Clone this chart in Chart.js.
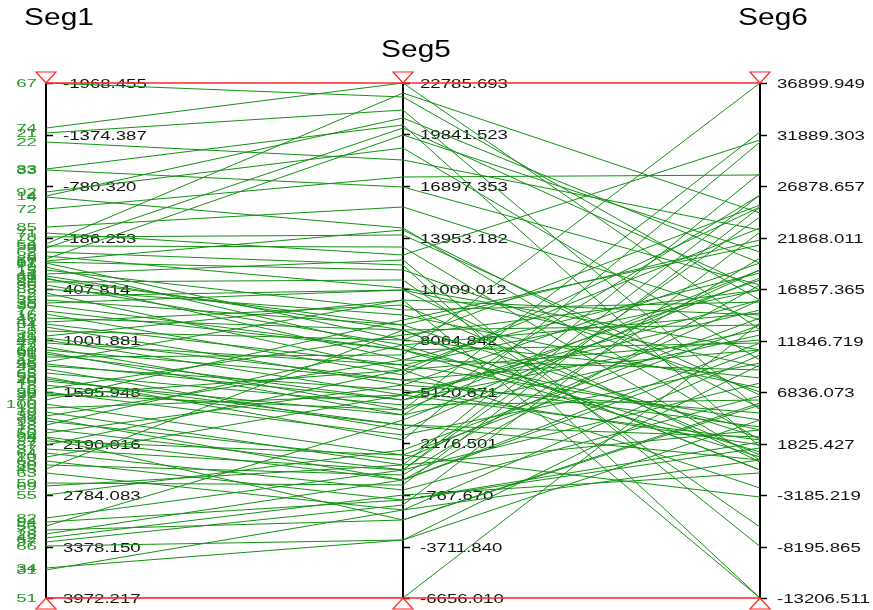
<!DOCTYPE html>
<html>
<head>
<meta charset="utf-8">
<script src="https://cdn.jsdelivr.net/npm/chart.js@4.4.1/dist/chart.umd.min.js"></script>
<style>
  html, body { margin: 0; padding: 0; background: #fff; }
</style>
</head>
<body>
<canvas id="chart" width="873" height="610"></canvas>
<script>
// axes of the parallel coordinate plot
const axisNames = ['Seg1', 'Seg5', 'Seg6'];
const axisMin = [-1968.4545, -6656.010, -13206.511];
const axisMax = [3972.217, 22785.693, 36899.949];
const axisReversed = [true, false, false];

const seg1Ticks = ['-1968.455', '-1374.387', '-780.320', '-186.253', '407.814', '1001.881', '1595.948', '2190.016', '2784.083', '3378.150', '3972.217'];
const seg5Ticks = ['22785.693', '19841.523', '16897.353', '13953.182', '11009.012', '8064.842', '5120.671', '2176.501', '-767.670', '-3711.840', '-6656.010'];
const seg6Ticks = ['36899.949', '31889.303', '26878.657', '21868.011', '16857.365', '11846.719', '6836.073', '1825.427', '-3185.219', '-8195.865', '-13206.511'];

// one line per record
const records = [67, 74, 21, 22, 83, 33, 92, 14, 4, 72, 85, 71, 78, 54, 53, 5, 62, 8, 26, 57,
  81, 9, 15, 44, 3, 61, 86, 36, 88, 2, 39, 30, 35, 16, 46, 41, 1, 58, 11, 43,
  47, 12, 60, 96, 25, 48, 49, 23, 65, 98, 40, 18, 6, 90, 27, 76, 100, 19, 70, 32,
  93, 13, 75, 50, 24, 7, 87, 37, 64, 10, 68, 80, 45, 63, 59, 69, 55, 82, 94, 56,
  73, 28, 42, 97, 66, 34, 31, 51, 17, 29, 52, 77, 84, 89, 91, 95, 20, 38, 79, 99];

const seg1 = [-1968.45, -1449, -1392, -1288, -976, -965, -711, -665, -653, -515,
  -307, -238, -192, -112, -88, -65, -19, 27, 62, 85,
  108, 154, 189, 235, 258, 281, 327, 362, 408, 454,
  535, 593, 570, 697, 743, 789, 846, 893, 950, 997,
  1031, 1077, 1112, 1158, 1193, 1250, 1296, 1331, 1377, 1423,
  1469, 1516, 1562, 1596, 1642, 1688, 1735, 1781, 1827, 1873,
  1931, 1977, 2023, 2069, 2115, 2161, 2208, 2254, 2300, 2346,
  2392, 2438, 2484, 2530, 2646, 2680, 2784, 3050, 3096, 3142,
  3188, 3234, 3280, 3326, 3373, 3626, 3649, 3972.21, 97, 293,
  489, 662, 812, 973, 1135, 1273, 1446, 1619, 1896, 2127];

const seg5 = [21986, 22785.69, 21242, 18384, 20385, 16840, 19070, 20785, 14496, 17412,
  15697, 12953, 14096, 22214, 13410, 20213, 12381, 11066, 19813, 14382,
  8093, 7522, 9809, 12667, 8665, 6950, 11524, 7808, 9523, 6378,
  8951, 7522, 10952, 6093, 8665, 10095, 5521, 8093, 10380, 4949,
  6664, 4092, 5807, 4663, 7236, 10380, 5235, 2948, 4378, 2376,
  3806, 3234, 8379, 2662, 6378, 9237, 1519, 4949, 947, 6950,
  1233, 7808, 661, 5521, 90, 1519, 6378, 661, -482, 4949,
  -1054, 375, 8665, -1625, -196, 947, 1805, 661, -1054, 3520,
  -2197, 90, -768, -1340, -3341, -3341, -1625, -6656.01, 12095, 8951,
  10952, 7522, 6664, 5807, 3806, 4663, 3234, 4092, 90, -2197];

const seg6 = [15787, 12868, 5085, 22598, 1485, 17246, 9950, 19387, 2166, 27949,
  13841, 31354, 6544, 24252, 221, 16760, -13206.51, 10923, 20457, 5280,
  25030, 3139, 15592, -8196, -752, 18414, -6299, 14522, 7225, 22792,
  2360, 11604, 26, 24836, 13355, 707, 19387, 8199, -13206.51, 15787,
  4111, 32133, 10923, 17733, 36899.94, 14327, 1680, 18706, 6058, 31160,
  12382, 221, 16760, 9658, -2504, 21138, 13355, 2166, 28143, 8977,
  15787, 999, 26003, 4792, 17246, -3380, 11895, 23863, 6447, 14814,
  1971, 19874, -752, 10436, 24836, 3139, 14036, 7711, 1388, 17927,
  5766, 11604, -1044, 22403, 4111, 9463, 221, 13549, 6836, 21625,
  9269, 513, 16760, 3431, 26003, 12868, 2458, 18706, 10923, 5571];

const lineColor = 'rgb(20,145,20)';
const labelGreen = '#2a962a';
const red = 'rgb(255,40,40)';
const FONT = '"Liberation Sans", Arial, sans-serif';

// map a value onto the shared 0..1 scale used to draw the lines
function norm(v, i) {
  const t = (v - axisMin[i]) / (axisMax[i] - axisMin[i]);
  return axisReversed[i] ? 1 - t : t;
}

const datasets = records.map((id, k) => ({
  label: String(id),
  data: [norm(seg1[k], 0), norm(seg5[k], 1), norm(seg6[k], 2)],
  borderColor: lineColor,
  borderWidth: 1,
  pointRadius: 0,
  tension: 0,
  yAxisID: 'yn'
}));

function axisScale(i) {
  return {
    type: 'linear',
    position: { x: i },
    min: axisMin[i],
    max: axisMax[i],
    reverse: axisReversed[i],
    grid: { drawOnChartArea: false, drawTicks: false },
    border: { display: true, color: '#000', width: 2 },
    ticks: { display: false }
  };
}

// text in the reference is stretched sideways
function wideText(ctx, text, x, y, font, color, sx, align) {
  ctx.save();
  ctx.translate(x, y);
  ctx.scale(sx, 1);
  ctx.font = font;
  ctx.fillStyle = color;
  ctx.textAlign = align;
  ctx.textBaseline = 'middle';
  ctx.fillText(text, 0, 0);
  ctx.restore();
}

const decor = {
  id: 'decor',
  beforeDatasetsDraw(chart) {
    const ctx = chart.ctx;
    const xs = chart.scales.x;
    const tickSets = [seg1Ticks, seg5Ticks, seg6Ticks];
    ['y1', 'y5', 'y6'].forEach((id, i) => {
      const sc = chart.scales[id];
      const ax = xs.getPixelForValue(i);
      tickSets[i].forEach(t => {
        const py = Math.round(sc.getPixelForValue(parseFloat(t))) + 0.5;
        ctx.save();
        ctx.strokeStyle = '#000';
        ctx.lineWidth = 1.5;
        ctx.beginPath();
        ctx.moveTo(ax, py);
        ctx.lineTo(ax + 7, py);
        ctx.stroke();
        ctx.restore();
        wideText(ctx, t, ax + 17, py + 1, '12px ' + FONT, '#111', 1.55, 'left');
      });
      // axis titles, alternating height
      wideText(ctx, axisNames[i], ax + 13, i % 2 ? 51 : 19, '23px ' + FONT, '#000', 1.3, 'center');
    });
    // record labels beside the first axis
    const s1 = chart.scales.y1;
    records.forEach((id, k) => {
      wideText(ctx, String(id), 37, s1.getPixelForValue(seg1[k]) + 1, '11px ' + FONT, labelGreen, 1.7, 'right');
    });
  },
  afterDatasetsDraw(chart) {
    const ctx = chart.ctx;
    const { left, right, top, bottom } = chart.chartArea;
    ctx.save();
    ctx.strokeStyle = red;
    ctx.lineWidth = 1.5;
    ctx.beginPath();
    ctx.moveTo(left, top);
    ctx.lineTo(right, top);
    ctx.moveTo(left, bottom);
    ctx.lineTo(right, bottom);
    ctx.stroke();
    ctx.lineWidth = 1.2;
    axisNames.forEach((n, i) => {
      const ax = chart.scales.x.getPixelForValue(i);
      ctx.beginPath();
      ctx.moveTo(ax - 10, top - 11);
      ctx.lineTo(ax + 10, top - 11);
      ctx.lineTo(ax, top);
      ctx.closePath();
      ctx.stroke();
      ctx.beginPath();
      ctx.moveTo(ax - 10, bottom + 11);
      ctx.lineTo(ax + 10, bottom + 11);
      ctx.lineTo(ax, bottom);
      ctx.closePath();
      ctx.stroke();
    });
    ctx.restore();
  }
};

new Chart(document.getElementById('chart'), {
  type: 'line',
  data: { labels: axisNames, datasets: datasets },
  options: {
    responsive: false,
    animation: false,
    layout: { padding: { left: 46, right: 113, top: 83, bottom: 12 } },
    plugins: { legend: { display: false }, tooltip: { enabled: false } },
    scales: {
      x: { type: 'category', display: false, offset: false },
      yn: { type: 'linear', min: 0, max: 1, display: false },
      y1: axisScale(0),
      y5: axisScale(1),
      y6: axisScale(2)
    }
  },
  plugins: [decor]
});
</script>
</body>
</html>
